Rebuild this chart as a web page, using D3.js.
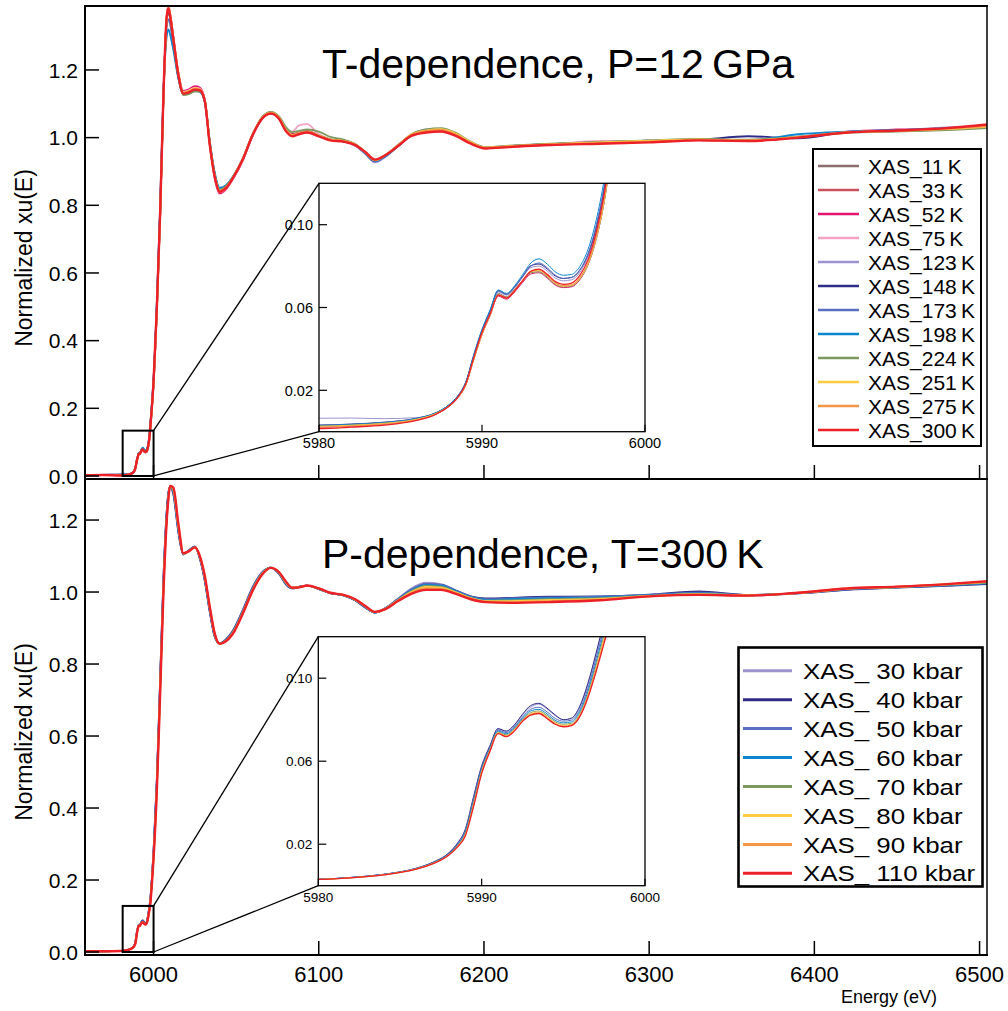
<!DOCTYPE html>
<html><head><meta charset="utf-8">
<script src="https://cdn.jsdelivr.net/npm/d3@7"></script>
<style>body{margin:0;background:#fff}svg{display:block;font-family:"Liberation Sans",Arial,Helvetica,sans-serif}</style>
</head><body><svg id="c" width="1008" height="1011"></svg>
<script>
// ---------------- DATA ----------------
const energy = [5958,5970,5980,5982,5984,5986,5987,5988,5988.5,5989,5989.5,5990,5990.5,5991,5991.5,5992,5992.5,5993,5993.5,5994,5994.5,5995,5995.5,5996,5996.5,5997,5997.5,5998,5999,
 6000,6002,6004,6006,6008,6009,6010,6012,
 6015,6018,6021,6025,6028,6031,6034,6037,6040,6044,6048,6054,6060,6066,6071,6076,6080,6084,6088,6093,6100,6107,6115,6122,6128,6134,6140,6148,6156,6165,6174,6183,6192,6201,
 6215,6240,6270,6300,6330,6360,6390,6420,6450,6480,6505];

// T-dependence, P = 12 GPa
const mu11K = [0.002,0.003,0.0028,0.0033,0.0042,0.0062,0.0083,0.0128,0.0167,0.0228,0.0355,0.0478,0.0572,0.0668,0.0652,0.0688,0.0732,0.0770,0.0775,0.0748,0.0712,0.0700,0.0705,0.0738,0.0810,0.0935,0.1120,0.1390,0.2010,
 0.275,0.490,0.770,1.120,1.355,1.378,1.355,1.285,
 1.180,1.127,1.130,1.140,1.137,1.108,0.982,0.888,0.843,0.855,0.882,0.937,1.010,1.060,1.074,1.060,1.026,1.010,1.014,1.018,1.008,0.995,0.990,0.980,0.956,0.932,0.946,0.978,1.008,1.022,1.026,1.012,0.986,0.970,
 0.975,0.981,0.986,0.990,0.994,0.992,1.003,1.016,1.020,1.024,1.031];
const mu33K = [0.002,0.003,0.0025,0.0030,0.0039,0.0059,0.0081,0.0126,0.0164,0.0227,0.0354,0.0474,0.0567,0.0662,0.0648,0.0683,0.0730,0.0771,0.0777,0.0751,0.0716,0.0703,0.0707,0.0741,0.0812,0.0936,0.1122,0.1390,0.2020,
 0.276,0.494,0.775,1.124,1.358,1.386,1.365,1.294,
 1.190,1.135,1.139,1.148,1.145,1.111,0.982,0.884,0.839,0.851,0.879,0.934,1.007,1.058,1.072,1.057,1.024,1.009,1.014,1.019,1.007,0.994,0.989,0.979,0.957,0.933,0.946,0.976,1.007,1.021,1.024,1.010,0.985,0.969,
 0.974,0.980,0.985,0.989,0.993,0.991,1.001,1.016,1.021,1.026,1.032];
const mu52K = [0.002,0.003,0.0021,0.0027,0.0036,0.0057,0.0079,0.0123,0.0161,0.0224,0.0350,0.0468,0.0560,0.0655,0.0640,0.0675,0.0722,0.0762,0.0768,0.0742,0.0708,0.0696,0.0700,0.0734,0.0805,0.0928,0.1112,0.1380,0.2010,
 0.275,0.493,0.774,1.126,1.360,1.390,1.368,1.298,
 1.193,1.138,1.142,1.152,1.148,1.112,0.980,0.880,0.835,0.848,0.877,0.932,1.006,1.057,1.071,1.057,1.024,1.010,1.014,1.019,1.007,0.994,0.989,0.979,0.957,0.934,0.946,0.975,1.006,1.021,1.024,1.010,0.984,0.969,
 0.973,0.979,0.984,0.988,0.993,0.991,1.001,1.018,1.024,1.027,1.034];
const mu75K = [0.002,0.003,0.0024,0.0030,0.0039,0.0059,0.0081,0.0125,0.0163,0.0226,0.0354,0.0474,0.0566,0.0660,0.0646,0.0681,0.0728,0.0770,0.0776,0.0750,0.0714,0.0701,0.0706,0.0740,0.0810,0.0935,0.1120,0.1390,0.2020,
 0.276,0.494,0.774,1.124,1.357,1.385,1.364,1.294,
 1.190,1.135,1.139,1.148,1.145,1.112,0.982,0.885,0.838,0.850,0.878,0.933,1.007,1.058,1.072,1.058,1.028,1.018,1.036,1.040,1.010,0.994,0.989,0.978,0.956,0.933,0.946,0.976,1.007,1.022,1.025,1.010,0.985,0.969,
 0.974,0.980,0.990,0.989,0.993,0.991,1.001,1.017,1.022,1.027,1.033];
const mu123K = [0.003,0.004,0.0065,0.0066,0.0063,0.0068,0.0086,0.0130,0.0169,0.0235,0.0366,0.0486,0.0580,0.0676,0.0660,0.0695,0.0747,0.0793,0.0800,0.0776,0.0742,0.0729,0.0734,0.0770,0.0845,0.0975,0.1170,0.1450,0.2080,
 0.282,0.502,0.785,1.130,1.352,1.375,1.355,1.286,
 1.183,1.130,1.134,1.143,1.140,1.108,0.983,0.889,0.845,0.855,0.882,0.936,1.009,1.060,1.073,1.057,1.022,1.006,1.012,1.017,1.006,0.993,0.988,0.976,0.952,0.927,0.942,0.975,1.008,1.024,1.026,1.012,0.986,0.970,
 0.975,0.981,0.986,0.991,0.995,0.993,1.002,1.017,1.022,1.030,1.034];
const mu148K = [0.002,0.003,0.0032,0.0037,0.0046,0.0065,0.0086,0.0131,0.0171,0.0238,0.0370,0.0490,0.0585,0.0682,0.0665,0.0700,0.0752,0.0802,0.0810,0.0786,0.0752,0.0740,0.0745,0.0780,0.0855,0.0985,0.1180,0.1460,0.2100,
 0.284,0.505,0.788,1.132,1.350,1.372,1.352,1.284,
 1.182,1.130,1.133,1.141,1.139,1.108,0.985,0.890,0.846,0.856,0.883,0.937,1.009,1.061,1.074,1.058,1.022,1.006,1.012,1.016,1.006,0.994,0.989,0.979,0.955,0.930,0.945,0.976,1.007,1.021,1.025,1.011,0.986,0.971,
 0.975,0.981,0.986,0.991,0.994,1.004,0.998,1.016,1.021,1.026,1.032];
const mu173K = [0.002,0.003,0.0031,0.0036,0.0045,0.0064,0.0085,0.0130,0.0170,0.0236,0.0368,0.0488,0.0582,0.0678,0.0662,0.0698,0.0750,0.0800,0.0815,0.0792,0.0756,0.0741,0.0746,0.0782,0.0860,0.0995,0.1190,0.1470,0.2110,
 0.285,0.508,0.792,1.135,1.330,1.350,1.335,1.272,
 1.178,1.128,1.131,1.139,1.137,1.106,0.986,0.894,0.849,0.858,0.884,0.937,1.010,1.061,1.075,1.058,1.023,1.006,1.012,1.016,1.006,0.994,0.989,0.979,0.955,0.930,0.944,0.976,1.007,1.021,1.025,1.012,0.986,0.971,
 0.975,0.981,0.986,0.990,0.994,0.992,1.002,1.017,1.022,1.027,1.033];
const mu198K = [0.002,0.003,0.0030,0.0035,0.0044,0.0064,0.0086,0.0132,0.0172,0.0240,0.0375,0.0495,0.0590,0.0685,0.0668,0.0705,0.0760,0.0815,0.0835,0.0810,0.0772,0.0756,0.0760,0.0798,0.0880,0.1020,0.1220,0.1500,0.2150,
 0.290,0.515,0.800,1.140,1.300,1.320,1.305,1.258,
 1.175,1.128,1.130,1.138,1.135,1.105,0.990,0.898,0.852,0.860,0.884,0.936,1.008,1.060,1.074,1.057,1.022,1.006,1.012,1.016,1.006,0.994,0.990,0.978,0.955,0.931,0.944,0.975,1.006,1.020,1.024,1.010,0.985,0.970,
 0.974,0.981,0.986,0.991,0.994,0.991,1.010,1.018,1.022,1.027,1.033];
const mu224K = [0.002,0.003,0.0027,0.0032,0.0041,0.0061,0.0083,0.0127,0.0164,0.0227,0.0352,0.0472,0.0566,0.0662,0.0649,0.0684,0.0729,0.0768,0.0772,0.0747,0.0712,0.0700,0.0704,0.0737,0.0806,0.0928,0.1110,0.1380,0.2000,
 0.272,0.490,0.770,1.118,1.350,1.378,1.358,1.288,
 1.182,1.126,1.128,1.136,1.136,1.112,0.990,0.892,0.846,0.857,0.884,0.938,1.010,1.062,1.076,1.063,1.032,1.016,1.020,1.024,1.018,1.002,0.994,0.982,0.958,0.934,0.948,0.978,1.010,1.024,1.028,1.014,0.988,0.972,
 0.976,0.982,0.987,0.992,0.996,0.994,1.002,1.014,1.018,1.022,1.028];
const mu251K = [0.002,0.003,0.0026,0.0031,0.0040,0.0060,0.0082,0.0126,0.0163,0.0226,0.0350,0.0470,0.0563,0.0660,0.0647,0.0683,0.0730,0.0772,0.0778,0.0752,0.0716,0.0703,0.0707,0.0740,0.0810,0.0932,0.1115,0.1385,0.2010,
 0.274,0.492,0.772,1.122,1.356,1.386,1.365,1.294,
 1.190,1.134,1.137,1.146,1.143,1.110,0.984,0.888,0.843,0.854,0.882,0.937,1.010,1.061,1.074,1.059,1.024,1.008,1.013,1.018,1.007,0.995,0.990,0.980,0.957,0.933,0.947,0.977,1.009,1.021,1.025,1.012,0.987,0.971,
 0.975,0.981,0.986,0.991,0.995,0.992,1.002,1.016,1.020,1.025,1.032];
const mu275K = [0.002,0.003,0.0022,0.0028,0.0037,0.0058,0.0080,0.0124,0.0162,0.0225,0.0352,0.0472,0.0565,0.0662,0.0648,0.0684,0.0733,0.0776,0.0782,0.0756,0.0720,0.0706,0.0710,0.0744,0.0815,0.0940,0.1125,0.1395,0.2020,
 0.276,0.495,0.775,1.125,1.358,1.384,1.362,1.292,
 1.188,1.133,1.136,1.145,1.142,1.110,0.983,0.887,0.842,0.853,0.881,0.936,1.009,1.060,1.073,1.058,1.023,1.007,1.012,1.017,1.006,0.994,0.990,0.980,0.958,0.934,0.948,0.977,1.008,1.020,1.023,1.009,0.985,0.970,
 0.974,0.980,0.984,0.988,0.993,0.991,1.001,1.015,1.020,1.026,1.034];
const mu300K = [0.002,0.003,0.0015,0.0022,0.0032,0.0055,0.0078,0.0125,0.0165,0.0230,0.0360,0.0480,0.0570,0.0660,0.0645,0.0680,0.0730,0.0775,0.0785,0.0760,0.0725,0.0712,0.0718,0.0755,0.0830,0.0960,0.1150,0.1420,0.2050,
 0.280,0.500,0.780,1.130,1.360,1.382,1.360,1.290,
 1.185,1.130,1.133,1.142,1.140,1.108,0.980,0.885,0.840,0.852,0.880,0.935,1.008,1.058,1.071,1.055,1.020,1.004,1.010,1.015,1.004,0.992,0.988,0.978,0.958,0.935,0.947,0.975,1.005,1.015,1.018,1.005,0.982,0.968,
 0.972,0.978,0.982,0.986,0.992,0.990,1.000,1.015,1.021,1.028,1.039];

// P-dependence, T = 300 K
const mu30kbar = [0.002,0.002,0.0031,0.0040,0.0055,0.0085,0.0113,0.0160,0.0205,0.0275,0.0430,0.0580,0.0675,0.0755,0.0744,0.0772,0.0822,0.0860,0.0875,0.0852,0.0820,0.0800,0.0805,0.0860,0.0965,0.1110,0.1270,0.1450,0.2050,
 0.280,0.480,0.760,1.040,1.225,1.275,1.290,1.270,
 1.165,1.105,1.115,1.126,1.092,1.030,0.945,0.876,0.857,0.870,0.893,0.950,1.014,1.056,1.068,1.050,1.022,1.010,1.014,1.018,1.008,0.996,0.991,0.977,0.958,0.944,0.955,0.982,1.010,1.026,1.022,1.004,0.986,0.978,
 0.978,0.982,0.986,0.990,0.992,0.990,0.996,1.008,1.013,1.018,1.024];
const mu40kbar = [0.002,0.002,0.0031,0.0040,0.0055,0.0084,0.0112,0.0158,0.0202,0.0270,0.0425,0.0575,0.0672,0.0757,0.0745,0.0775,0.0826,0.0868,0.0879,0.0856,0.0823,0.0800,0.0808,0.0864,0.0975,0.1120,0.1280,0.1460,0.2060,
 0.282,0.482,0.762,1.042,1.228,1.278,1.292,1.272,
 1.168,1.104,1.114,1.127,1.094,1.032,0.946,0.876,0.857,0.869,0.892,0.949,1.013,1.056,1.068,1.050,1.022,1.010,1.014,1.018,1.008,0.997,0.991,0.977,0.957,0.943,0.954,0.980,1.006,1.022,1.020,1.004,0.988,0.982,
 0.984,0.987,0.988,0.993,1.002,0.992,0.996,1.006,1.012,1.017,1.022];
const mu50kbar = [0.002,0.002,0.0031,0.0039,0.0054,0.0083,0.0110,0.0155,0.0197,0.0263,0.0415,0.0568,0.0666,0.0750,0.0738,0.0765,0.0813,0.0850,0.0860,0.0838,0.0806,0.0793,0.0798,0.0848,0.0950,0.1095,0.1250,0.1420,0.2010,
 0.276,0.474,0.750,1.030,1.220,1.272,1.294,1.276,
 1.172,1.105,1.114,1.126,1.095,1.035,0.950,0.879,0.857,0.868,0.890,0.947,1.011,1.055,1.068,1.051,1.024,1.011,1.014,1.018,1.009,0.997,0.991,0.978,0.958,0.943,0.954,0.980,1.006,1.022,1.020,1.004,0.987,0.980,
 0.982,0.985,0.987,0.992,0.998,0.992,0.997,1.007,1.013,1.018,1.024];
const mu60kbar = [0.002,0.002,0.0031,0.0039,0.0054,0.0082,0.0109,0.0153,0.0194,0.0258,0.0405,0.0560,0.0660,0.0745,0.0732,0.0760,0.0807,0.0842,0.0850,0.0828,0.0797,0.0785,0.0790,0.0838,0.0935,0.1075,0.1230,0.1400,0.1990,
 0.272,0.468,0.742,1.022,1.215,1.269,1.295,1.280,
 1.176,1.106,1.113,1.125,1.097,1.038,0.952,0.880,0.857,0.867,0.889,0.945,1.009,1.054,1.068,1.052,1.025,1.011,1.014,1.018,1.009,0.997,0.991,0.978,0.959,0.943,0.953,0.979,1.004,1.020,1.018,1.002,0.985,0.978,
 0.980,0.983,0.985,0.991,0.996,0.991,0.997,1.008,1.013,1.019,1.025];
const mu70kbar = [0.002,0.002,0.0030,0.0039,0.0053,0.0082,0.0108,0.0151,0.0191,0.0252,0.0397,0.0554,0.0655,0.0740,0.0727,0.0755,0.0801,0.0834,0.0842,0.0820,0.0790,0.0778,0.0783,0.0828,0.0923,0.1060,0.1210,0.1375,0.1960,
 0.268,0.462,0.735,1.015,1.210,1.266,1.295,1.283,
 1.180,1.107,1.113,1.125,1.098,1.040,0.955,0.882,0.857,0.866,0.888,0.944,1.008,1.053,1.068,1.053,1.026,1.012,1.014,1.018,1.009,0.997,0.991,0.979,0.960,0.944,0.953,0.978,1.002,1.017,1.015,1.000,0.984,0.976,
 0.977,0.980,0.983,0.990,0.995,0.991,0.997,1.009,1.014,1.020,1.026];
const mu80kbar = [0.002,0.002,0.0030,0.0038,0.0053,0.0081,0.0107,0.0150,0.0189,0.0248,0.0390,0.0549,0.0651,0.0737,0.0723,0.0751,0.0797,0.0829,0.0837,0.0814,0.0785,0.0773,0.0778,0.0822,0.0915,0.1048,0.1195,0.1355,0.1940,
 0.265,0.458,0.730,1.010,1.206,1.264,1.295,1.285,
 1.183,1.107,1.112,1.124,1.099,1.042,0.957,0.883,0.856,0.865,0.886,0.942,1.006,1.052,1.067,1.054,1.027,1.012,1.014,1.018,1.010,0.998,0.992,0.979,0.961,0.944,0.953,0.977,1.000,1.014,1.012,0.999,0.983,0.975,
 0.975,0.978,0.981,0.989,0.994,0.991,0.997,1.009,1.014,1.021,1.028];
const mu90kbar = [0.002,0.002,0.0030,0.0038,0.0052,0.0080,0.0106,0.0149,0.0187,0.0244,0.0385,0.0545,0.0648,0.0735,0.0720,0.0748,0.0794,0.0825,0.0833,0.0810,0.0781,0.0769,0.0775,0.0818,0.0910,0.1040,0.1183,0.1338,0.1920,
 0.262,0.454,0.725,1.005,1.203,1.262,1.295,1.288,
 1.186,1.107,1.112,1.124,1.100,1.043,0.958,0.884,0.856,0.865,0.885,0.941,1.005,1.051,1.067,1.055,1.028,1.012,1.013,1.018,1.010,0.998,0.992,0.980,0.961,0.945,0.952,0.976,0.998,1.010,1.009,0.997,0.981,0.973,
 0.972,0.975,0.979,0.988,0.993,0.990,0.998,1.010,1.015,1.022,1.029];
const mu110kbar = [0.002,0.002,0.0030,0.0038,0.0052,0.0080,0.0105,0.0148,0.0185,0.0240,0.0380,0.0540,0.0645,0.0733,0.0718,0.0745,0.0792,0.0822,0.0830,0.0806,0.0778,0.0766,0.0772,0.0814,0.0905,0.1030,0.1170,0.1320,0.1900,
 0.260,0.450,0.720,1.000,1.200,1.260,1.295,1.290,
 1.190,1.108,1.112,1.124,1.100,1.045,0.960,0.885,0.856,0.864,0.884,0.940,1.004,1.050,1.067,1.055,1.030,1.012,1.013,1.018,1.010,0.998,0.992,0.980,0.962,0.945,0.952,0.975,0.995,1.006,1.006,0.995,0.980,0.972,
 0.970,0.972,0.977,0.988,0.992,0.990,0.998,1.010,1.015,1.022,1.030];

const tempLabels = ["XAS_11\u2009K","XAS_33\u2009K","XAS_52\u2009K","XAS_75\u2009K","XAS_123\u2009K","XAS_148\u2009K","XAS_173\u2009K","XAS_198\u2009K","XAS_224\u2009K","XAS_251\u2009K","XAS_275\u2009K","XAS_300\u2009K"];
const tempValues = [mu11K,mu33K,mu52K,mu75K,mu123K,mu148K,mu173K,mu198K,mu224K,mu251K,mu275K,mu300K];
const pressLabels = ["XAS_ 30 kbar","XAS_ 40 kbar","XAS_ 50 kbar","XAS_ 60 kbar","XAS_ 70 kbar","XAS_ 80 kbar","XAS_ 90 kbar","XAS_ 110 kbar"];
const pressValues = [mu30kbar,mu40kbar,mu50kbar,mu60kbar,mu70kbar,mu80kbar,mu90kbar,mu110kbar];

const xTicks = [6000,6100,6200,6300,6400,6500];
const yTicks = [0,0.2,0.4,0.6,0.8,1.0,1.2];
const insetXTicks = [5980,5990,6000];
const insetYTicks = [0.02,0.06,0.10];
const titles = ["T-dependence, P=12\u2009GPa","P-dependence, T=300\u2009K"];

// ---------------- STYLE ----------------
const tempColors = ["#8a6e6e","#c9505c","#e3146e","#f5a3c3","#9d93cf","#2f2c87","#5a6ec2","#0e86cf","#7e9960","#ffcb45","#f39645","#ec2027"];
const pressColors = ["#9d93cf","#2f2c87","#5a6ec2","#0e86cf","#7e9960","#ffcb45","#f39645","#ec2027"];

const svg = d3.select("#c");
const x = d3.scaleLinear().domain([5958.5, 6504.5]).range([85, 987]);

const panels = [
  {id:"t", y:d3.scaleLinear().domain([-0.0089,1.389]).range([479,6]), top:6, bottom:479,
   values:tempValues, labels:tempLabels, colors:tempColors, title:titles[0], titleY:78, labelY:258,
   inset:{x0:319,x1:645,y0:183.3,y1:431.7,fs:14.5, lblY:448}, zoomTop:0.134,
   legend:{x:813,y:149,w:168,h:297,row0:166,dy:24,lx0:818,lx1:859,tx:868,fs:21,sx:1,lw:2.5,bw:2}},
  {id:"p", y:d3.scaleLinear().domain([-0.0083,1.314]).range([955,479]), top:479, bottom:955,
   values:pressValues, labels:pressLabels, colors:pressColors, title:titles[1], titleY:568, labelY:732,
   inset:{x0:318.3,x1:645,y0:636.7,y1:885.7,fs:13.5, lblY:902}, zoomTop:0.128,
   legend:{x:738.5,y:647.5,w:244,h:239,row0:670.7,dy:28.95,lx0:743,lx1:792,tx:803,fs:22.5,sx:1.15,lw:3,bw:2.6}}
];

panels.forEach((P,pi) => {
  const g = svg.append("g");
  const clipId = "clip-"+P.id;
  svg.append("clipPath").attr("id",clipId).append("rect")
    .attr("x",85).attr("y",P.top).attr("width",902).attr("height",P.bottom-P.top);

  // main spectra
  const line = d3.line().x((d,i)=>x(energy[i])).y(d=>P.y(d)).curve(d3.curveMonotoneX);
  const lg = g.append("g").attr("clip-path",`url(#${clipId})`);
  P.values.forEach((vals,i)=>{
    const last = i===P.values.length-1;
    lg.append("path").attr("d",line(vals)).attr("fill","none")
      .attr("stroke",P.colors[i]).attr("stroke-width", last?2.4:1.8).attr("stroke-linejoin","round");
  });

  // y ticks & labels
  yTicks.forEach(t=>{
    const yy = P.y(t);
    g.append("line").attr("x1",85).attr("x2",99).attr("y1",yy).attr("y2",yy).attr("stroke","#000").attr("stroke-width",1.5);
    g.append("text").attr("x",78).attr("y",yy).attr("dy","0.36em").attr("text-anchor","end")
      .attr("font-size",21).text(d3.format(".1f")(t));
  });
  // x ticks
  xTicks.forEach(t=>{
    g.append("line").attr("x1",x(t)).attr("x2",x(t)).attr("y1",P.bottom).attr("y2",P.bottom-14).attr("stroke","#000").attr("stroke-width",1.5);
    if(pi===1) g.append("text").attr("x",x(t)).attr("y",982).attr("text-anchor","middle").attr("font-size",22).text(t);
  });

  // y label
  g.append("text").attr("transform",`translate(32,${P.labelY}) rotate(-90)`).attr("text-anchor","middle")
    .attr("font-size",23).text("Normalized xu(E)");
  // title
  g.append("text").attr("x",322).attr("y",P.titleY).attr("font-size",41).text(P.title);

  // zoom box and connectors
  const I = P.inset;
  const bx0 = x(5981.3), bx1 = x(6000), by0 = P.y(P.zoomTop), by1 = P.y(0);
  g.append("rect").attr("x",bx0).attr("y",by0).attr("width",bx1-bx0).attr("height",by1-by0)
    .attr("fill","none").attr("stroke","#000").attr("stroke-width",2);
  g.append("line").attr("x1",bx1).attr("y1",by0).attr("x2",I.x0).attr("y2",I.y0).attr("stroke","#000").attr("stroke-width",1.3);
  g.append("line").attr("x1",bx1).attr("y1",by1).attr("x2",I.x0).attr("y2",I.y1).attr("stroke","#000").attr("stroke-width",1.3);

  // inset
  const ix = d3.scaleLinear().domain([5980,6000]).range([I.x0,I.x1]);
  const iy = d3.scaleLinear().domain([0,0.12]).range([I.y1,I.y0]);
  const ig = g.append("g");
  ig.append("rect").attr("x",I.x0).attr("y",I.y0).attr("width",I.x1-I.x0).attr("height",I.y1-I.y0).attr("fill","#fff");
  const iclip = "iclip-"+P.id;
  svg.append("clipPath").attr("id",iclip).append("rect").attr("x",I.x0).attr("y",I.y0).attr("width",I.x1-I.x0).attr("height",I.y1-I.y0);
  const iline = d3.line().defined((d,i)=>energy[i]>=5970 && energy[i]<=6002)
    .x((d,i)=>ix(energy[i])).y(d=>iy(d)).curve(d3.curveMonotoneX);
  const il = ig.append("g").attr("clip-path",`url(#${iclip})`);
  P.values.forEach((vals,i)=>{
    const last = i===P.values.length-1;
    il.append("path").attr("d",iline(vals)).attr("fill","none").attr("stroke",P.colors[i]).attr("stroke-width",last?1.3:1);
  });
  ig.append("rect").attr("x",I.x0).attr("y",I.y0).attr("width",I.x1-I.x0).attr("height",I.y1-I.y0)
    .attr("fill","none").attr("stroke","#000").attr("stroke-width",1.3);
  insetYTicks.forEach(t=>{
    ig.append("line").attr("x1",I.x0).attr("x2",I.x0+8).attr("y1",iy(t)).attr("y2",iy(t)).attr("stroke","#000").attr("stroke-width",1.2);
    ig.append("text").attr("x",I.x0-6).attr("y",iy(t)).attr("dy","0.36em").attr("text-anchor","end").attr("font-size",I.fs).text(d3.format(".2f")(t));
  });
  insetXTicks.forEach(t=>{
    ig.append("line").attr("x1",ix(t)).attr("x2",ix(t)).attr("y1",I.y1).attr("y2",I.y1-7).attr("stroke","#000").attr("stroke-width",1.2);
    ig.append("text").attr("x",ix(t)).attr("y",I.lblY).attr("text-anchor","middle").attr("font-size",I.fs).text(t);
  });

  // legend
  const L = P.legend;
  const leg = g.append("g");
  leg.append("rect").attr("x",L.x).attr("y",L.y).attr("width",L.w).attr("height",L.h)
    .attr("fill","#fff").attr("stroke","#000").attr("stroke-width",L.bw);
  P.labels.forEach((lab,i)=>{
    const yy = L.row0 + i*L.dy;
    leg.append("line").attr("x1",L.lx0).attr("x2",L.lx1).attr("y1",yy).attr("y2",yy)
      .attr("stroke",P.colors[i]).attr("stroke-width",L.lw);
    leg.append("text").attr("transform",`translate(${L.tx},${yy}) scale(${L.sx},1)`).attr("dy","0.36em")
      .attr("font-size",L.fs).text(lab);
  });
});

// frame
const frame = svg.append("g").attr("stroke","#000").attr("fill","none");
frame.append("line").attr("x1",85).attr("x2",85).attr("y1",5).attr("y2",956).attr("stroke-width",2);
frame.append("line").attr("x1",84).attr("x2",988).attr("y1",6).attr("y2",6).attr("stroke-width",2);
frame.append("line").attr("x1",987).attr("x2",987).attr("y1",5).attr("y2",956).attr("stroke-width",1.5);
frame.append("line").attr("x1",84).attr("x2",988).attr("y1",479).attr("y2",479).attr("stroke-width",2);
frame.append("line").attr("x1",84).attr("x2",988).attr("y1",955).attr("y2",955).attr("stroke-width",2);

svg.append("text").attr("x",889).attr("y",1003).attr("text-anchor","middle").attr("font-size",18).text("Energy (eV)");
</script></body></html>
